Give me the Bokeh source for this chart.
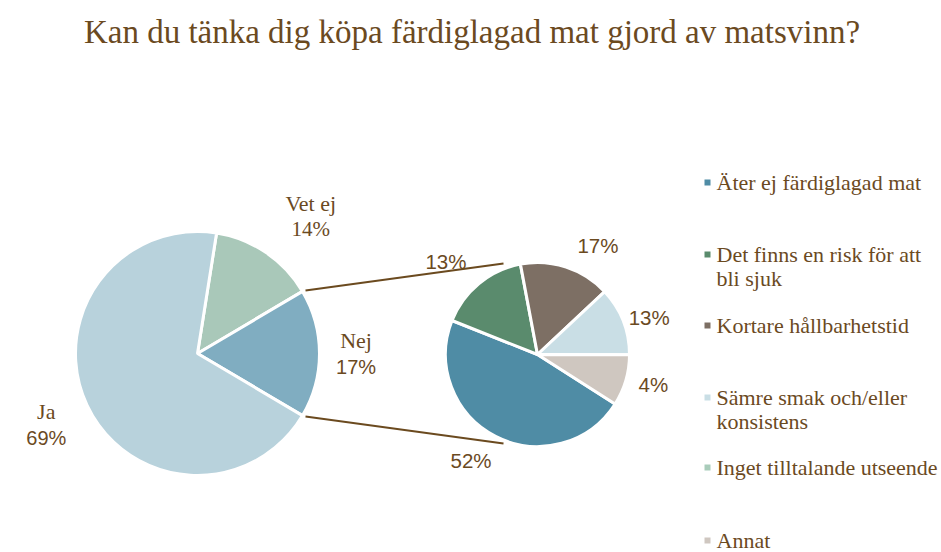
import math
from bokeh.plotting import figure
from bokeh.models import Range1d
from bokeh.core.properties import value
from bokeh.embed import file_html
from bokeh.resources import INLINE

# ---------------- data ----------------
title = "Kan du tänka dig köpa färdiglagad mat gjord av matsvinn?"

main_names = ["Vet ej", "Nej", "Ja"]
main_pct = [14, 17, 69]
main_colors = ["#A9C8B9", "#80ADC1", "#B8D2DC"]

sub_names = ["Äter ej färdiglagad mat", "Det finns en risk för att\nbli sjuk",
             "Kortare hållbarhetstid", "Sämre smak och/eller\nkonsistens",
             "Inget tilltalande utseende", "Annat"]
sub_share = [47, 16, 16, 12, 0, 9]          # slice sizes as drawn
sub_labels = ["52%", "13%", "17%", "13%", "", "4%"]  # labels as printed
sub_colors = ["#4F8CA5", "#5A8B6D", "#7D6F64", "#C9DEE5", "#A9CCBA", "#CFC7C0"]

# ---------------- layout ----------------
W, H = 941, 552
TXT = "#6B4A1F"
SERIF = "Liberation Serif"
SANS = "Liberation Sans"

p = figure(width=W, height=H, output_backend="svg", toolbar_location=None,
           x_range=Range1d(0, W), y_range=Range1d(0, H), min_border=0)
p.axis.visible = False
p.grid.visible = False
p.outline_line_color = None
p.background_fill_color = "white"
p.border_fill_color = "white"

def Y(ypix):
    return H - ypix

# title
p.text(x=[W / 2 + 1], y=[Y(31)], text=[title], text_align="center",
       text_baseline="middle", text_font=value(SERIF), text_font_size="33px",
       text_color=TXT)

# ---------- main pie ----------
cx1, cy1, r1 = 197, Y(353), 122
start = (main_pct[0] + main_pct[1] / 2) * 3.6   # "Nej" centered on the right side
a = start
mid_main = []
starts, ends = [], []
for v in main_pct:
    span = v * 3.6
    starts.append(math.radians(a - span))
    ends.append(math.radians(a))
    mid_main.append(a - span / 2)
    a -= span
p.wedge(x=[cx1] * 3, y=[cy1] * 3, radius=r1, start_angle=starts, end_angle=ends,
        fill_color=main_colors, line_color="white", line_width=3)

nej_top = math.radians(start - main_pct[0] * 3.6)
nej_bot = math.radians(start - (main_pct[0] + main_pct[1]) * 3.6)

lab_f = [1.36, 1.30, 1.37]
nudge = [20, 0, 0]
for name, v, m, f, dx in zip(main_names, main_pct, mid_main, lab_f, nudge):
    lx = cx1 + r1 * f * math.cos(math.radians(m)) + dx
    ly = cy1 + r1 * f * math.sin(math.radians(m))
    p.text(x=[lx], y=[ly + 13], text=[name], text_align="center", text_baseline="middle",
           text_font=value(SERIF), text_font_size="22px", text_color=TXT)
    p.text(x=[lx], y=[ly - 13], text=[f"{v}%"], text_align="center", text_baseline="middle",
           text_font=value(SERIF if name == "Vet ej" else SANS),
           text_font_size="21px" if name == "Vet ej" else "20px", text_color=TXT)

# ---------- sub pie ----------
cx2, cy2, r2 = 537, Y(354), 92
a = -(sub_share[4] + sub_share[5]) * 3.6 - 0.1
xs, ys, s2, e2, cols, mids = [], [], [], [], [], []
for v, c in zip(sub_share, sub_colors):
    span = v * 3.6
    mids.append(a - span / 2)
    if v > 0:
        xs.append(cx2)
        ys.append(cy2)
        s2.append(math.radians(a - span))
        e2.append(math.radians(a))
        cols.append(c)
    a -= span
p.wedge(x=xs, y=ys, radius=r2, start_angle=s2, end_angle=e2,
        fill_color=cols, line_color="white", line_width=3)

lab2_f = [1.36, 1.42, 1.35, 1.28, 1.3, 1.30]
lab2_rot = [-5, 5, -11, -3, 0, 2]
for lab, m, f, rot in zip(sub_labels, mids, lab2_f, lab2_rot):
    if not lab:
        continue
    ang = math.radians(m + rot)
    p.text(x=[cx2 + r2 * f * math.cos(ang)], y=[cy2 + r2 * f * math.sin(ang)], text=[lab],
           text_align="center", text_baseline="middle", text_font=value(SANS),
           text_font_size="20.5px", text_color=TXT)

# connector lines
p.line(x=[cx1 + r1 * math.cos(nej_top) + 3, cx2 - 34],
       y=[cy1 + r1 * math.sin(nej_top) + 1, cy2 + 91],
       line_color=TXT, line_width=2)
p.line(x=[cx1 + r1 * math.cos(nej_bot) + 3, cx2 - 34],
       y=[cy1 + r1 * math.sin(nej_bot) - 1, cy2 - 89],
       line_color=TXT, line_width=2)

# ---------- legend ----------
leg_y = [182, 254, 325, 397, 467, 540]
for name, col, ly in zip(sub_names, sub_colors, leg_y):
    p.rect(x=[707], y=[Y(ly)], width=6, height=6, fill_color=col, line_color=None)
    lines = name.split("\n")
    for i, t in enumerate(lines):
        p.text(x=[716], y=[Y(ly + 24 * i)], text=[t], text_align="left",
               text_baseline="middle", text_font=value(SERIF), text_font_size="22px",
               text_color=TXT)

open("out.html", "w").write(file_html(p, INLINE))
